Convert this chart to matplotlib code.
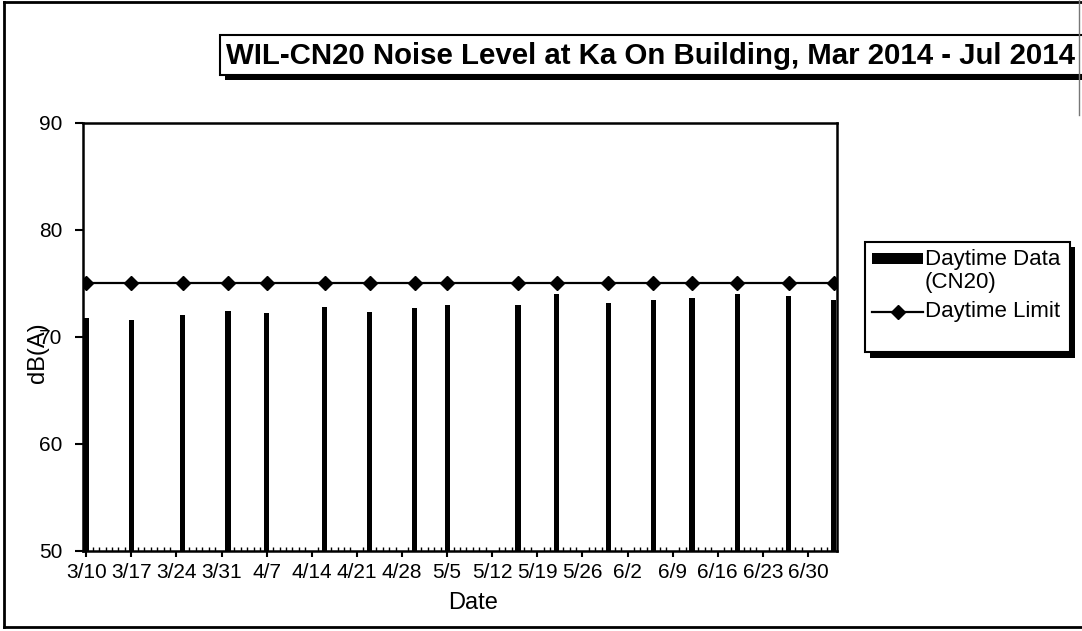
import numpy as np
import matplotlib
matplotlib.use("Agg")
import matplotlib.pyplot as plt
import matplotlib.dates as mdates
from matplotlib.patches import Rectangle
from matplotlib.lines import Line2D

plt.rcParams['font.family'] = ['Liberation Sans', 'DejaVu Sans']

# daytime readings for CN20
dates = np.array(['2014-03-10', '2014-03-17', '2014-03-25', '2014-04-01', '2014-04-07',
                  '2014-04-16', '2014-04-23', '2014-04-30', '2014-05-05', '2014-05-16',
                  '2014-05-22', '2014-05-30', '2014-06-06', '2014-06-12', '2014-06-19',
                  '2014-06-27', '2014-07-04'], dtype='datetime64[D]')
daytime = [71.8, 71.6, 72.1, 72.4, 72.2, 72.85, 72.3, 72.7, 73.0, 73.0,
           74.0, 73.2, 73.5, 73.6, 74.0, 73.8, 73.5]
limit = [75] * len(dates)

week_ticks = np.arange('2014-03-10', '2014-07-01', 7, dtype='datetime64[D]')
yticks = [50, 60, 70, 80, 90]

W, H = 1082, 631
fx = lambda x: x / W
fy = lambda y: 1 - y / H

fig = plt.figure(figsize=(W / 100, H / 100), dpi=100)
ax = fig.add_axes([fx(83), fy(551), (837 - 83) / W, (551 - 123) / H])

ax.bar(dates, daytime, width=0.8, color='black')
ax.plot(dates, limit, color='black', lw=1.6, marker='D', ms=7)

ax.set_xlim(mdates.date2num(dates[0]) - 0.5, mdates.date2num(dates[-1]) + 0.5)
ax.set_ylim(50, 90)
ax.set_yticks(yticks)
ax.set_xticks(week_ticks)
ax.set_xticklabels([f"{d.astype(object).month}/{d.astype(object).day}" for d in week_ticks])
ax.xaxis.set_minor_locator(mdates.DayLocator())

ax.tick_params(axis='y', which='major', direction='out', length=6, width=1.5,
               pad=9, labelsize=15)
ax.tick_params(axis='x', which='major', direction='out', length=4, width=1.5,
               pad=5, labelsize=15)
ax.tick_params(axis='x', which='minor', direction='in', length=3, width=1)
for s in ax.spines.values():
    s.set_linewidth(1.8)

fig.text(fx(38), fy(353), 'dB(A)', rotation=90, ha='center', va='center', fontsize=17)
fig.text(fx(473), fy(603), 'Date', ha='center', va='center', fontsize=17)

# outer chart frame
for xs, ys in [([4, 4], [2, 627]), ([4, W], [2, 2]), ([4, W], [627, 627])]:
    fig.add_artist(Line2D([fx(x) for x in xs], [fy(y) for y in ys], color='black', lw=2))
fig.add_artist(Line2D([fx(1079), fx(1079)], [fy(0), fy(115)], color='#777777', lw=1))

# title box with drop shadow
fig.add_artist(Rectangle((fx(225), fy(80)), fx(870), 45 / H, transform=fig.transFigure,
                         facecolor='black', edgecolor='none'))
fig.add_artist(Rectangle((fx(220), fy(75)), fx(875), 40 / H, transform=fig.transFigure,
                         facecolor='white', edgecolor='black', lw=1.5))
fig.text(fx(226), fy(56), 'WIL-CN20 Noise Level at Ka On Building, Mar 2014 - Jul 2014',
         ha='left', va='center', fontsize=21.2, fontweight='bold')

# legend box with drop shadow
fig.add_artist(Rectangle((fx(870), fy(358)), 205 / W, 111 / H, transform=fig.transFigure,
                         facecolor='black', edgecolor='none'))
fig.add_artist(Rectangle((fx(865), fy(352)), 205 / W, 110 / H, transform=fig.transFigure,
                         facecolor='white', edgecolor='black', lw=1.5))
fig.add_artist(Rectangle((fx(872), fy(264)), 51 / W, 11 / H, transform=fig.transFigure,
                         facecolor='black', edgecolor='none'))
fig.text(fx(925), fy(249), 'Daytime Data\n(CN20)', ha='left', va='top', fontsize=16,
         linespacing=1.15)
fig.add_artist(Line2D([fx(872), fx(923)], [fy(312), fy(312)], color='black', lw=1.6))
fig.add_artist(Line2D([fx(898)], [fy(312)], color='black', marker='D', ms=7))
fig.text(fx(925), fy(312), 'Daytime Limit', ha='left', va='center', fontsize=16)

fig.savefig('out.png', dpi=100)
